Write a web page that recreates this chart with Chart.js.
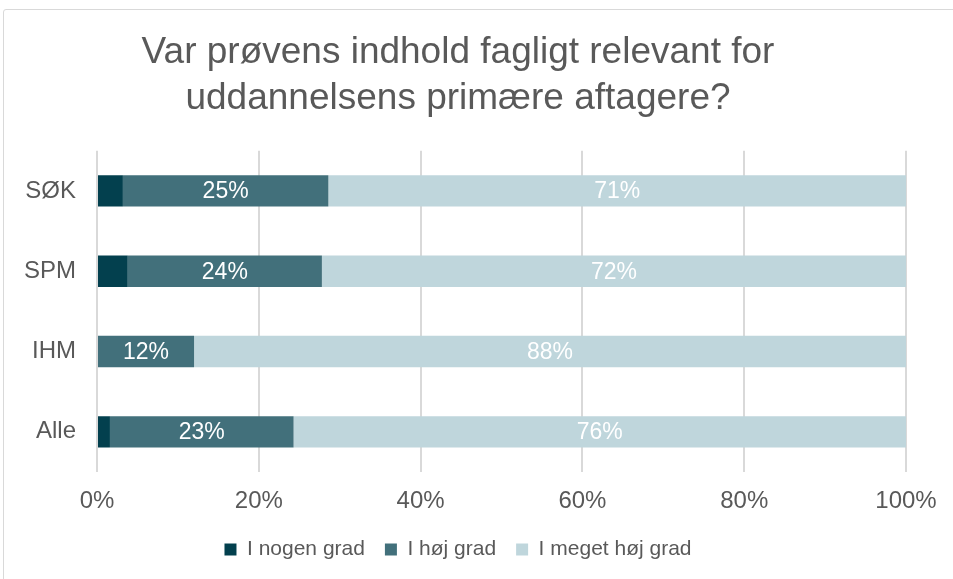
<!DOCTYPE html>
<html>
<head>
<meta charset="utf-8">
<script src="https://cdn.jsdelivr.net/npm/chart.js@4"></script>
<style>
  body { margin: 0; background: #fff; overflow: hidden; }
  #wrap { position: relative; width: 953px; height: 579px; }
  #frame { position: absolute; left: 3px; top: 9px; width: 1000px; height: 700px; border: 1px solid #d9d9d9; border-radius: 3px; }
  canvas { position: absolute; left: 0; top: 0; }
</style>
</head>
<body>
<div id="wrap">
  <div id="frame"></div>
  <canvas id="myChart" width="953" height="579"></canvas>
</div>
<script>
var categories = ['SØK', 'SPM', 'IHM', 'Alle'];
var nogenGrad = [3.2, 3.8, 0, 1.6];
var hojGrad = [25.4, 24.0, 12.0, 22.7];
var megetHojGrad = [71.4, 72.2, 88.0, 75.7];
var xTicks = [0, 20, 40, 60, 80, 100];

var FONT = '"Liberation Sans", Arial, sans-serif';
var GREY = '#595959';

// labels in the middle of the two bigger segments
var barLabels = {
    id: 'barLabels',
    afterDatasetsDraw: function(chart) {
        var ctx = chart.ctx;
        ctx.save();
        ctx.font = '23px ' + FONT;
        ctx.fillStyle = '#ffffff';
        ctx.textAlign = 'center';
        ctx.textBaseline = 'middle';
        [1, 2].forEach(function(i) {
            var meta = chart.getDatasetMeta(i);
            meta.data.forEach(function(bar, j) {
                var v = chart.data.datasets[i].data[j];
                if (!v) return;
                ctx.fillText(Math.round(v) + '%', (bar.x + bar.base) / 2, bar.y + 1);
            });
        });
        ctx.restore();
    }
};

var ctx = document.getElementById('myChart').getContext('2d');
var myChart = new Chart(ctx, {
    type: 'bar',
    data: {
        labels: categories,
        datasets: [{
            label: 'I nogen grad',
            data: nogenGrad,
            backgroundColor: '#03404e'
        },
        {
            label: 'I høj grad',
            data: hojGrad,
            backgroundColor: '#42707b'
        },
        {
            label: 'I meget høj grad',
            data: megetHojGrad,
            backgroundColor: '#bfd6dc'
        }]
    },
    options: {
        indexAxis: 'y',
        responsive: false,
        animation: false,
        categoryPercentage: 1,
        barPercentage: 0.39,
        layout: {
            padding: { left: 10, right: 47, top: 11, bottom: 9 }
        },
        plugins: {
            title: {
                display: true,
                text: ['Var prøvens indhold fagligt relevant for', 'uddannelsens primære aftagere?'],
                color: GREY,
                font: { family: FONT, size: 37, weight: 'normal', lineHeight: 1.24 },
                padding: { top: 19, bottom: 29 }
            },
            legend: {
                position: 'bottom',
                labels: {
                    color: GREY,
                    font: { family: FONT, size: 21 },
                    boxWidth: 12,
                    boxHeight: 12,
                    padding: 20
                }
            },
            tooltip: { enabled: false }
        },
        scales: {
            x: {
                stacked: true,
                min: 0,
                max: 100,
                afterBuildTicks: function(scale) {
                    scale.ticks = xTicks.map(function(v) { return { value: v }; });
                },
                afterFit: function(scale) { scale.height = 47; },
                ticks: {
                    color: GREY,
                    font: { family: FONT, size: 24 },
                    padding: 15,
                    callback: function(v) { return v + '%'; }
                },
                grid: { color: '#d9d9d9', lineWidth: 2, drawTicks: false },
                border: { display: false }
            },
            y: {
                stacked: true,
                afterFit: function(scale) { scale.width = 87; },
                ticks: {
                    color: GREY,
                    font: { family: FONT, size: 24 },
                    padding: 13
                },
                grid: { display: false },
                border: { display: false }
            }
        }
    },
    plugins: [barLabels]
});
</script>
</body>
</html>
